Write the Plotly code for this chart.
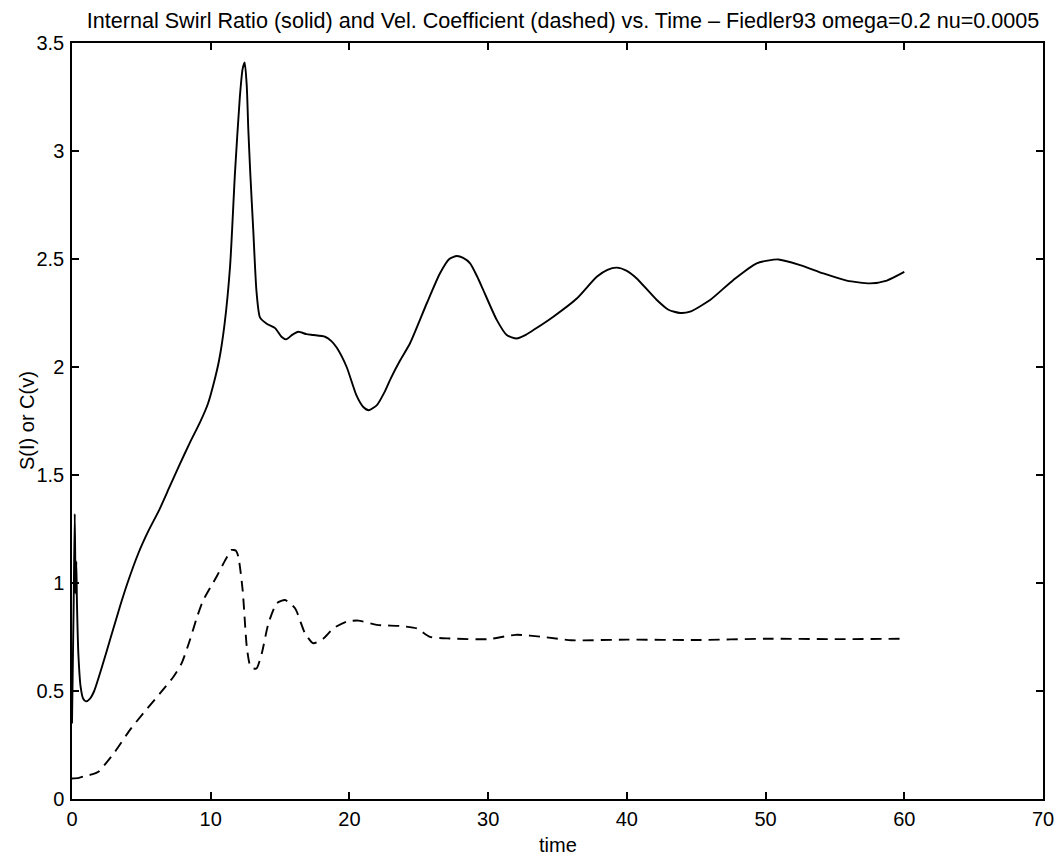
import plotly.graph_objects as go

# Internal swirl ratio S(I) (solid)
t_solid = [0, 0.12, 0.2, 0.26, 0.31, 0.36, 0.46, 0.62, 0.8, 1.0, 1.3, 1.6, 2.2, 2.8, 3.5, 4.0,
           4.8, 5.5, 6.3, 7.0, 7.7, 8.5, 9.2, 9.8, 10.2, 10.6, 11.0, 11.4, 11.75, 12.1, 12.3,
           12.45, 12.6, 12.71, 12.85, 13.07, 13.3, 13.55, 14.04, 14.64, 15.1, 15.43, 15.9,
           16.32, 16.9, 17.4, 18.24, 18.7, 19.08, 19.8, 20.5, 21.0, 21.4, 22.0, 22.5, 23.0,
           23.65, 24.37, 25.57, 26.53, 27.2, 27.74, 28.2, 28.7, 29.2, 29.65, 30.62, 31.34,
           32.06, 32.6, 33.26, 34.7, 36.39, 37.83, 38.6, 39.27, 40.0, 40.71, 42.16, 43.0,
           43.84, 44.56, 46.0, 47.68, 49.36, 50.92, 52.49, 54.17, 55.85, 57.53, 58.74, 60.0]
s_solid = [0.35, 0.9, 1.32, 0.95, 1.1, 0.9, 0.67, 0.52, 0.465, 0.452, 0.465, 0.5, 0.62, 0.75,
           0.9, 1.0, 1.14, 1.24, 1.34, 1.44, 1.54, 1.65, 1.74, 1.83, 1.92, 2.03, 2.2, 2.47,
           2.9, 3.25, 3.38, 3.41, 3.3, 3.1, 2.9, 2.63, 2.35, 2.23, 2.2, 2.18, 2.14, 2.128,
           2.15, 2.163, 2.152, 2.148, 2.14, 2.12, 2.09, 2.0, 1.87, 1.815, 1.8, 1.825, 1.88,
           1.95, 2.03, 2.11, 2.294, 2.434, 2.5, 2.514, 2.505, 2.48, 2.42, 2.356, 2.218, 2.148,
           2.132, 2.145, 2.171, 2.233, 2.317, 2.418, 2.45, 2.46, 2.445, 2.41, 2.31, 2.265,
           2.25, 2.256, 2.31, 2.403, 2.48, 2.498, 2.472, 2.433, 2.4, 2.387, 2.4, 2.44]

# Velocity coefficient C(v) (dashed)
t_dashed = [0, 0.5, 0.94, 1.5, 1.9, 2.5, 3.1, 4.18, 5.14, 6.34, 7.3, 7.9, 8.5, 9.0, 9.47,
            10.43, 11.0, 11.51, 11.8, 11.99, 12.3, 12.6, 12.83, 13.05, 13.3, 13.68, 14.16,
            14.76, 15.36, 16.08, 16.8, 17.4, 18.12, 18.84, 19.8, 20.64, 21.97, 23.65, 24.85,
            25.8, 27.25, 30.0, 32.0, 34.0, 36.0, 40.0, 45.0, 50.0, 55.0, 60.0]
c_dashed = [0.095, 0.098, 0.106, 0.115, 0.126, 0.17, 0.219, 0.32, 0.397, 0.489, 0.565, 0.628,
            0.736, 0.84, 0.921, 1.03, 1.1, 1.153, 1.15, 1.122, 0.968, 0.705, 0.62, 0.605,
            0.604, 0.674, 0.813, 0.906, 0.921, 0.883, 0.767, 0.721, 0.743, 0.79, 0.821, 0.826,
            0.806, 0.801, 0.79, 0.751, 0.743, 0.74, 0.76, 0.75, 0.735, 0.738, 0.736, 0.742,
            0.74, 0.742]

x_ticks = [0, 10, 20, 30, 40, 50, 60, 70]
y_ticks = [0, 0.5, 1, 1.5, 2, 2.5, 3, 3.5]

title_text = ("Internal Swirl Ratio (solid) and Vel. Coefficient (dashed) vs. Time "
              "\u2013 Fiedler93 omega=0.2 nu=0.0005")
y_label = "S(I) or C(v)"
x_label = "time"

FONT = "Liberation Sans, Arial, Helvetica, sans-serif"

fig = go.Figure()
fig.add_trace(go.Scatter(x=t_solid, y=s_solid, mode="lines",
                         line=dict(color="black", width=1.9, shape="spline", smoothing=0.6),
                         showlegend=False))
fig.add_trace(go.Scatter(x=t_dashed, y=c_dashed, mode="lines",
                         line=dict(color="black", width=1.9, dash="11px,7px",
                                   shape="spline", smoothing=0.6),
                         showlegend=False))

axis_common = dict(showgrid=False, zeroline=False, showline=True, linecolor="black",
                   linewidth=1.5, mirror="ticks", ticks="inside", ticklen=7,
                   tickcolor="black", tickwidth=1.5, automargin=False,
                   tickfont=dict(family=FONT, size=20, color="black"))

fig.update_xaxes(range=[0, 70], tickvals=x_ticks, ticktext=[str(v) for v in x_ticks],
                 ticklabelstandoff=1, **axis_common)
fig.update_yaxes(range=[0, 3.5], tickvals=y_ticks, ticktext=[f"{v:g}" for v in y_ticks],
                 ticklabelstandoff=2, **axis_common)

fig.add_annotation(text=y_label, xref="paper", yref="paper", x=(27 - 72) / 971, y=0.5,
                   xanchor="center", yanchor="middle", textangle=-90, showarrow=False,
                   font=dict(family=FONT, size=20, color="black"))
fig.add_annotation(text=x_label, xref="paper", yref="paper", x=0.5, y=-(845 - 799) / 756,
                   xanchor="center", yanchor="middle", showarrow=False,
                   font=dict(family=FONT, size=20, color="black"))

fig.update_layout(
    width=1063, height=858,
    margin=dict(l=72, r=20, t=43, b=59),
    paper_bgcolor="white", plot_bgcolor="white",
    title=dict(text=title_text, x=563 / 1063, xanchor="center", yref="container",
               y=1 - 20 / 858, yanchor="middle",
               font=dict(family=FONT, size=21.6, color="black")),
)

fig.write_html("out.html")
